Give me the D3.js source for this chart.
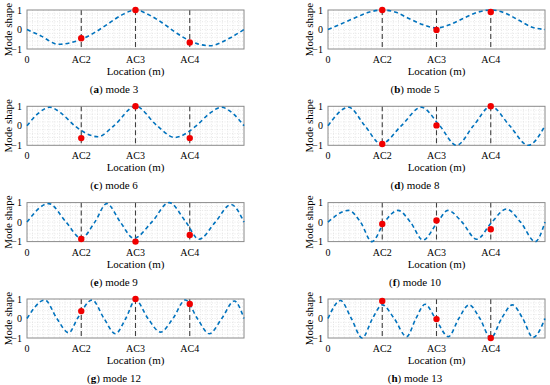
<!DOCTYPE html>
<html>
<head>
<meta charset="utf-8">
<script src="https://cdn.jsdelivr.net/npm/d3@7"></script>
<style>
  body { margin: 0; background: #fff; }
  svg text { font-family: "Liberation Serif", "DejaVu Serif", "Times New Roman", serif; }
</style>
</head>
<body>
<div id="vis"></div>
<script>
// sensor locations along the span and their tick labels
var locations = [0, 1, 2, 3];
var tickLabels = ["0", "AC2", "AC3", "AC4"];
var sensorLocations = [1, 2, 3];
var yTicks = [-1, 0, 1];

var panelLetters = ["a", "b", "c", "d", "e", "f", "g", "h"];
var modeNumbers = [3, 5, 6, 8, 9, 10, 12, 13];

// mode shape curves as [location, value]
var mode3Curve = [[0,0],[0.25,-0.32],[0.58,-0.76],[1,-0.5],[1.25,-0.15],[1.5,0.3],[1.75,0.75],[2,1],[2.25,0.75],[2.5,0.33],[2.75,-0.17],[3,-0.58],[3.37,-0.83],[3.75,-0.42],[4,0]];
var mode5Curve = [[0,0],[0.25,0.3],[0.5,0.6],[0.75,0.88],[1,1],[1.25,0.88],[1.5,0.55],[1.75,0.25],[2,0.08],[2.25,0.25],[2.5,0.58],[2.75,0.88],[3,1],[3.25,0.86],[3.5,0.5],[3.75,0.13],[4,0]];
var mode6Curve = [[0,0],[0.2,0.62],[0.42,0.95],[0.65,0.6],[0.88,0],[1.31,-0.56],[1.6,0],[2,1],[2.4,0],[2.72,-0.6],[3.12,0],[3.35,0.6],[3.58,0.95],[3.8,0.62],[4,0]];
var mode8Curve = [[0,0],[0.38,0.95],[0.68,0],[0.98,-0.93],[1.35,0],[1.72,0.95],[2.06,0],[2.37,-1],[2.68,0],[3,1],[3.35,0],[3.69,-1],[4,0]];
var mode9Curve = [[0,0],[0.4,0.95],[0.72,0],[1,-0.83],[1.25,0],[1.47,0.95],[1.72,0],[1.97,-0.83],[2.3,0],[2.62,1],[2.93,0],[3.17,-0.88],[3.47,0],[3.76,0.9],[4,0]];
var mode10Curve = [[0,0],[0.38,0.6],[0.6,0],[0.81,-1],[1.04,0],[1.29,0.6],[1.52,0],[1.75,-0.92],[2.02,0],[2.21,0.6],[2.47,0],[2.74,-0.88],[3.02,0],[3.29,0.67],[3.55,0],[3.82,-1],[4,0]];
var mode12Curve = [[0,0],[0.33,0.95],[0.55,0],[0.77,-0.73],[0.93,0],[1.2,0.95],[1.42,0],[1.63,-0.78],[1.82,0],[2,0.95],[2.23,0],[2.46,-0.7],[2.69,0],[2.92,0.95],[3.14,0],[3.36,-0.78],[3.59,0],[3.82,0.9],[4,0]];
var mode13Curve = [[0,0],[0.23,0.92],[0.43,0],[0.63,-1],[0.82,0],[1,0.7],[1.22,0],[1.45,-0.93],[1.62,0],[1.79,0.73],[1.98,0],[2.22,-0.93],[2.41,0],[2.6,0.7],[2.8,0],[3,-1],[3.2,0],[3.4,0.7],[3.59,0],[3.78,-0.97],[4,0]];

// measured values at AC2, AC3, AC4 (red dots)
var mode3Sensors = [-0.45, 1.0, -0.67];
var mode5Sensors = [1.0, -0.02, 0.9];
var mode6Sensors = [-0.63, 1.0, -0.63];
var mode8Sensors = [-0.93, 0.02, 1.0];
var mode9Sensors = [-0.87, -1.0, -0.66];
var mode10Sensors = [-0.1, 0.08, -0.37];
var mode12Sensors = [0.38, 1.0, 0.75];
var mode13Sensors = [0.9, -0.03, -1.0];

var curves = [mode3Curve, mode5Curve, mode6Curve, mode8Curve, mode9Curve, mode10Curve, mode12Curve, mode13Curve];
var sensors = [mode3Sensors, mode5Sensors, mode6Sensors, mode8Sensors, mode9Sensors, mode10Sensors, mode12Sensors, mode13Sensors];

var width = 550, height = 385;
var plotW = 217, plotH = 39;
var colLeft = [27, 328];
var rowTop = [10, 106.3, 202.6, 299];
var serif = "Liberation Serif, DejaVu Serif, Times New Roman, serif";

var svg = d3.select("#vis")
  .append("svg")
  .attr("width", width)
  .attr("height", height)
  .attr("font-family", serif)
  .style("display", "block");

var x = d3.scaleLinear().domain([0, 4]).range([0, plotW]);
var y = d3.scaleLinear().domain([-1, 1]).range([plotH, 0]);

var line = d3.line()
  .x(function (d) { return x(d[0]); })
  .y(function (d) { return y(d[1]); })
  .curve(d3.curveMonotoneX);

panelLetters.forEach(function (letter, i) {
  var g = svg.append("g")
    .attr("transform", "translate(" + colLeft[i % 2] + "," + rowTop[Math.floor(i / 2)] + ")");

  // minor dotted grid
  g.append("g")
    .selectAll("line")
    .data(d3.range(1, 40).map(function (k) { return k / 10; }))
    .enter().append("line")
    .attr("x1", x).attr("x2", x)
    .attr("y1", 0).attr("y2", plotH)
    .attr("stroke", "#d6d6d6")
    .attr("stroke-width", 0.6)
    .attr("stroke-dasharray", "1,1.5");
  g.append("g")
    .selectAll("line")
    .data(d3.range(1, 10).map(function (k) { return -1 + k / 5; }))
    .enter().append("line")
    .attr("x1", 0).attr("x2", plotW)
    .attr("y1", y).attr("y2", y)
    .attr("stroke", "#d6d6d6")
    .attr("stroke-width", 0.6)
    .attr("stroke-dasharray", "1,1.5");

  // sensor position lines
  g.selectAll(".acline")
    .data(sensorLocations)
    .enter().append("line")
    .attr("class", "acline")
    .attr("x1", x).attr("x2", x)
    .attr("y1", 0).attr("y2", plotH)
    .attr("stroke", "#404040")
    .attr("stroke-width", 1.1)
    .attr("stroke-dasharray", "5,3");

  // box
  g.append("rect")
    .attr("width", plotW).attr("height", plotH)
    .attr("fill", "none")
    .attr("stroke", "#8a8a8a")
    .attr("stroke-width", 1);

  // mode shape
  g.append("path")
    .datum(curves[i])
    .attr("d", line)
    .attr("fill", "none")
    .attr("stroke", "#0072BD")
    .attr("stroke-width", 1.6)
    .attr("stroke-dasharray", "4,3");

  // measured points
  g.selectAll(".dot")
    .data(sensors[i])
    .enter().append("circle")
    .attr("class", "dot")
    .attr("cx", function (d, j) { return x(sensorLocations[j]); })
    .attr("cy", y)
    .attr("r", 3.2)
    .attr("fill", "#f00000");

  // tick labels
  g.selectAll(".xt")
    .data(locations)
    .enter().append("text")
    .attr("class", "xt")
    .attr("x", x)
    .attr("y", plotH + 14)
    .attr("text-anchor", "middle")
    .attr("font-family", serif)
    .attr("font-size", 10)
    .text(function (d, j) { return tickLabels[j]; });
  g.selectAll(".yt")
    .data(yTicks)
    .enter().append("text")
    .attr("class", "yt")
    .attr("x", -5)
    .attr("y", function (d) { return y(d) + 3.5; })
    .attr("text-anchor", "end")
    .attr("font-family", serif)
    .attr("font-size", 10)
    .text(function (d) { return d < 0 ? "\u2212" + Math.abs(d) : d; });

  g.append("text")
    .attr("x", plotW / 2)
    .attr("y", 65)
    .attr("text-anchor", "middle")
    .attr("font-family", serif)
    .attr("font-size", 11)
    .text("Location (m)");
  g.append("text")
    .attr("transform", "translate(-15.5," + plotH / 2 + ") rotate(-90)")
    .attr("text-anchor", "middle")
    .attr("font-family", serif)
    .attr("font-size", 11)
    .text("Mode shape");

  // caption
  var cap = g.append("text")
    .attr("x", 87)
    .attr("y", 83)
    .attr("text-anchor", "middle")
    .attr("font-family", serif)
    .attr("font-size", 11);
  cap.append("tspan").text("(");
  cap.append("tspan").attr("font-weight", "bold").text(letter);
  cap.append("tspan").text(") mode " + modeNumbers[i]);
});
</script>
</body>
</html>
